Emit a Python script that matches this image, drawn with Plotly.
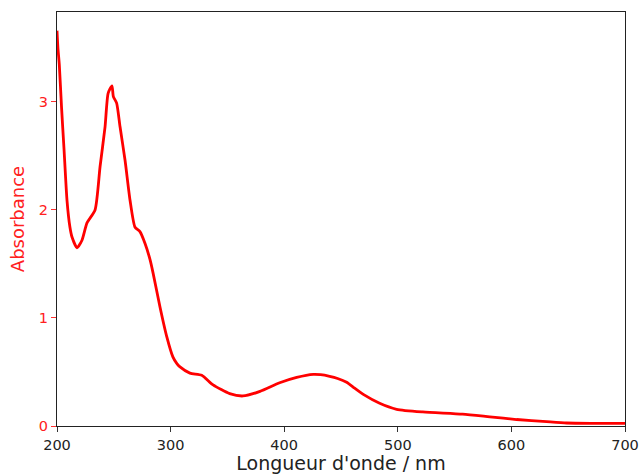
import plotly.graph_objects as go

wavelength_nm = [200, 200.8, 202, 204, 206.2, 208.8, 211.4, 213.2, 217.6, 222, 226.4, 233.5,
                 237.9, 242.3, 245, 248.4, 249.6, 252.5, 255.5, 259.9, 264.3, 268.7, 273,
                 277.5, 281.9, 284.5, 290.7, 296.8, 302, 305.4, 308, 317, 327.4, 337.4,
                 352, 363.7, 378.7, 396, 411, 425.6, 432, 440, 447, 455, 462, 470, 484, 499, 522,
                 557, 581, 604.6, 631, 648.5, 670, 700]
absorbance = [3.66, 3.50, 3.35, 2.95, 2.56, 2.09, 1.84, 1.75, 1.65, 1.72, 1.88, 2.00,
              2.40, 2.77, 3.08, 3.15, 3.05, 2.99, 2.77, 2.46, 2.09, 1.84, 1.80,
              1.69, 1.54, 1.42, 1.10, 0.82, 0.64, 0.58, 0.55, 0.49, 0.47, 0.38,
              0.30, 0.278, 0.32, 0.40, 0.45, 0.478, 0.475, 0.46, 0.44, 0.405, 0.35, 0.29, 0.21, 0.155, 0.13,
              0.11, 0.085, 0.06, 0.04, 0.028, 0.025, 0.025]

x_ticks = [200, 300, 400, 500, 600, 700]
y_ticks = [0, 1, 2, 3]

fig = go.Figure()
fig.add_trace(go.Scatter(x=wavelength_nm, y=absorbance, mode="lines",
                         line=dict(color="#ff0000", width=2.8, shape="spline", smoothing=0.6),
                         showlegend=False))

font = "DejaVu Sans, Liberation Sans, sans-serif"
fig.update_layout(
    width=640, height=475,
    margin=dict(l=57, r=15, t=12, b=49),
    paper_bgcolor="white", plot_bgcolor="white",
    font=dict(family=font),
)
fig.update_xaxes(
    range=[200, 700], tickvals=x_ticks, ticks="outside", ticklen=5, tickwidth=1,
    tickcolor="#333", showline=True, linecolor="#222", linewidth=1.2, mirror=True,
    showgrid=False, zeroline=False, automargin=False,
    tickfont=dict(size=14.5, color="#222", family=font),
    title=dict(text="Longueur d'onde / nm", font=dict(size=19, color="#222", family=font), standoff=5),
)
fig.update_yaxes(
    range=[0, 3.833], tickvals=y_ticks, ticks="outside", ticklen=5, tickwidth=1,
    tickcolor="#ff3030", showline=True, linecolor="#222", linewidth=1.2, mirror=True,
    showgrid=False, zeroline=False, automargin=False,
    tickfont=dict(size=14.5, color="#ff2020", family=font),
    title=dict(text="Absorbance", font=dict(size=18, color="#ff2020", family=font), standoff=9),
)
fig.write_html("out.html")
